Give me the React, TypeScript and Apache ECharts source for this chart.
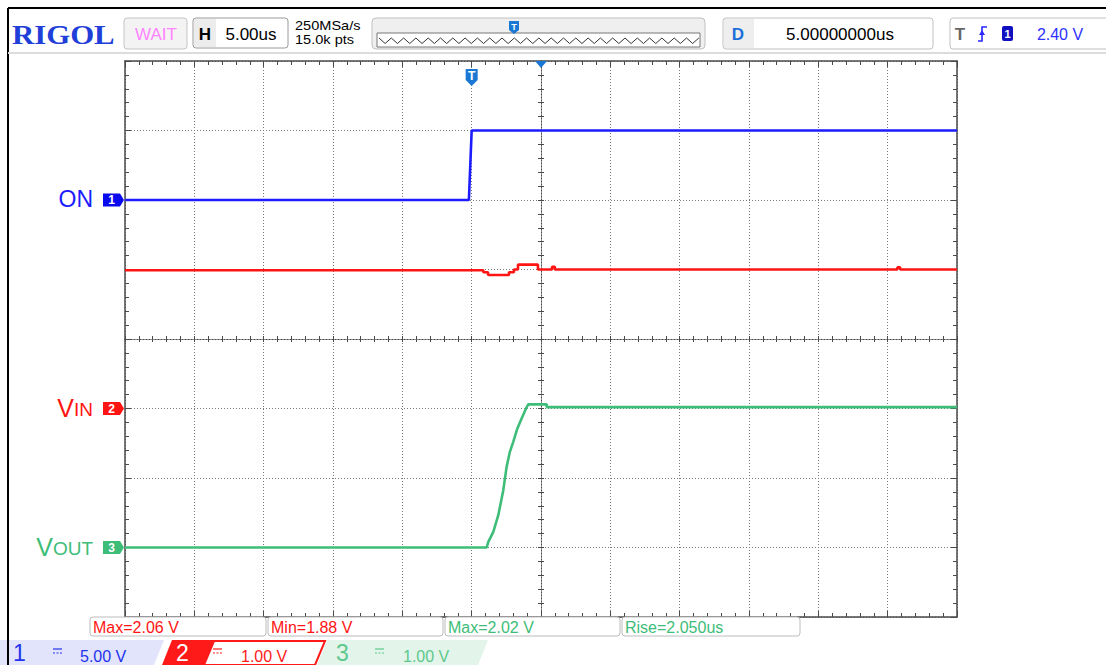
import React, { useEffect, useRef } from "react";
import * as echarts from "echarts";

// ---- axis definition (time in us relative to trigger, vertical in divisions) ----
const TIME_MIN = -25;
const TIME_MAX = 35;
const TIME_STEP = 5;
const DIV_MIN = -4;
const DIV_MAX = 4;
const CENTER_TIME = 5; // horizontal delay D = 5.00us

// ---- channels ----
const channelNames = ["ON", "VIN", "VOUT"];
const channelNumbers = ["1", "2", "3"];
const channelScales = [5, 1, 1]; // V/div
const channelOffsets = [2, -1, -3]; // ground marker position in divisions
const channelColors = ["#1c1cff", "#ff1414", "#3dbd78"];

// ---- CH1: ON ----
const onTime = [-25, -0.2, 0, 35];
const onVolts = [0, 0, 5, 5];

// ---- CH2: VIN ----
const vinTime = [-25, 0.84, 0.84, 1.18, 1.18, 2.69, 2.69, 3.05, 3.05, 3.34, 3.34, 4.78, 4.78, 5.8, 5.8, 6.0, 6.0, 30.7, 30.7, 30.9, 30.9, 35];
const vinVolts = [1.99, 1.99, 1.96, 1.96, 1.92, 1.92, 1.96, 1.96, 2.0, 2.0, 2.07, 2.07, 2.0, 2.0, 2.04, 2.04, 2.0, 2.0, 2.03, 2.03, 2.0, 2.0];

// ---- CH3: VOUT ----
const voutTime = [-25, 1.08, 1.2, 1.56, 1.92, 2.28, 2.52, 2.76, 3.0, 3.29, 3.61, 3.92, 4.08, 5.41, 5.41, 35];
const voutVolts = [0, 0, 0.08, 0.225, 0.465, 0.825, 1.16, 1.38, 1.52, 1.71, 1.86, 2.0, 2.06, 2.06, 2.02, 2.02];

// ---- header / measurement texts ----
const timebaseLabel = "5.00us";
const sampleRateLabel = "250MSa/s";
const memDepthLabel = "15.0k pts";
const delayLabel = "5.00000000us";
const triggerLevelLabel = "2.40 V";
const measureLabels = ["Max=2.06 V", "Min=1.88 V", "Max=2.02 V", "Rise=2.050us"];
const measureColors = ["#ff1414", "#ff1414", "#3dbd78", "#3dbd78"];
const channelScaleLabels = ["5.00 V", "1.00 V", "1.00 V"];

const UI_FONT = '"Liberation Sans", Arial, sans-serif';

const GRID_LEFT = 125;
const GRID_TOP = 61;
const GRID_W = 832;
const GRID_H = 556;

function toDivs(times: number[], volts: number[], ch: number) {
  return times.map((t, i) => [t, channelOffsets[ch] + volts[i] / channelScales[ch]]);
}

const AX = "#4a4a4a";
const SPLIT = { color: "#7a7a7a", type: [1, 2], width: 1 };

function xAxisDef(position: "top" | "bottom", offset: number, inside: boolean, split: boolean, lineType: any) {
  return {
    type: "value",
    min: TIME_MIN,
    max: TIME_MAX,
    interval: TIME_STEP,
    position,
    offset,
    axisLine: { show: true, onZero: false, lineStyle: { color: AX, width: offset === 0 ? 1.5 : 1, type: lineType } },
    axisTick: { show: true, inside, length: offset === 0 ? 6 : 3, lineStyle: { color: AX } },
    minorTick: { show: true, splitNumber: 5, length: offset === 0 ? 4 : 3, lineStyle: { color: AX } },
    axisLabel: { show: false },
    splitLine: { show: split, lineStyle: SPLIT },
    minorSplitLine: { show: false },
  };
}

function yAxisDef(position: "left" | "right", offset: number, inside: boolean, split: boolean, lineType: any) {
  return {
    type: "value",
    min: DIV_MIN,
    max: DIV_MAX,
    interval: 1,
    position,
    offset,
    axisLine: { show: true, onZero: false, lineStyle: { color: AX, width: offset === 0 ? 1.5 : 1, type: lineType } },
    axisTick: { show: true, inside, length: offset === 0 ? 6 : 3, lineStyle: { color: AX } },
    minorTick: { show: true, splitNumber: 5, length: offset === 0 ? 4 : 3, lineStyle: { color: AX } },
    axisLabel: { show: false },
    splitLine: { show: split, lineStyle: SPLIT },
    minorSplitLine: { show: false },
  };
}

function txt(x: number, y: number, text: string, o: any) {
  const align = o.align || "left";
  return {
    type: "text",
    x,
    y,
    scaleX: o.scaleX || 1,
    silent: true,
    z: 20,
    style: {
      text,
      fill: o.color,
      font: o.font,
      align,
      textAlign: align,
      verticalAlign: "middle",
      textVerticalAlign: "middle",
    },
  };
}

function rect(x: number, y: number, w: number, h: number, fill: string, stroke?: string, r = 0, lw = 1) {
  return {
    type: "rect",
    silent: true,
    z: 10,
    shape: { x, y, width: w, height: h, r },
    style: { fill, stroke: stroke || "none", lineWidth: lw },
  };
}

function poly(points: number[][], fill: string, stroke?: string, lw = 1) {
  return {
    type: "polygon",
    silent: true,
    z: 10,
    shape: { points },
    style: { fill, stroke: stroke || "none", lineWidth: lw },
  };
}

function line(x1: number, y1: number, x2: number, y2: number, stroke: string, lw = 1, dash?: number[]) {
  return {
    type: "line",
    silent: true,
    z: 15,
    shape: { x1, y1, x2, y2 },
    style: { stroke, lineWidth: lw, lineDash: dash },
  };
}

function coupling(x: number, y: number, color: string) {
  return [line(x, y, x + 9, y, color, 1.2), line(x, y + 4, x + 9, y + 4, color, 1.2, [2, 1.5])];
}

function buildGraphics(chart: any) {
  const px = (t: number, d: number) => chart.convertToPixel({ xAxisIndex: 0, yAxisIndex: 0 }, [t, d]);
  const g: any[] = [];

  // frame lines
  g.push(line(8, 8, 1106, 8, "#000", 2));
  g.push(line(8, 8, 8, 665, "#000", 2));
  g.push(line(8, 53, 1106, 53, "#dcdcdc", 2));

  // ---- header ----
  g.push(txt(12, 34, "RIGOL", { font: `bold 28px "Liberation Serif", serif`, color: "#1f3fd8", scaleX: 1.1 }));

  g.push(rect(124, 18, 63, 31, "#f3f3f3", "#c4c4c4", 3));
  g.push(txt(156, 34, "WAIT", { font: `17px ${UI_FONT}`, color: "#ff84ff", align: "center" }));

  g.push(rect(193, 18, 95, 30, "#ffffff", "#9a9a9a", 3));
  g.push(rect(194, 19, 22, 28, "#ececec"));
  g.push(txt(205, 34, "H", { font: `bold 17px ${UI_FONT}`, color: "#000", align: "center" }));
  g.push(txt(251, 34, timebaseLabel, { font: `17px ${UI_FONT}`, color: "#000", align: "center" }));

  g.push(txt(295, 26, sampleRateLabel, { font: `13px ${UI_FONT}`, color: "#000", scaleX: 1.12 }));
  g.push(txt(295, 40, memDepthLabel, { font: `13px ${UI_FONT}`, color: "#000", scaleX: 1.12 }));

  g.push(rect(372, 18, 333, 31, "#efefef", "#c0c0c0", 4));
  g.push(rect(377, 33, 323, 14, "#ffffff", "#777777"));
  const zig: number[][] = [];
  for (let i = 0; i <= 52; i++) {
    zig.push([379 + i * 6.15, i % 2 === 0 ? 38 : 43.5]);
  }
  g.push({ type: "polyline", silent: true, z: 15, shape: { points: zig }, style: { stroke: "#333", lineWidth: 1, fill: "none" } });
  g.push(poly([[509, 21], [519, 21], [519, 30], [514, 34], [509, 30]], "#1a78d4"));
  g.push(txt(514, 27, "T", { font: `bold 9px ${UI_FONT}`, color: "#fff", align: "center" }));

  g.push(rect(723, 18, 210, 31, "#ffffff", "#c0c0c0", 3));
  g.push(rect(724, 19, 30, 29, "#eeeeee"));
  g.push(txt(738, 34, "D", { font: `bold 17px ${UI_FONT}`, color: "#1a6fd8", align: "center" }));
  g.push(txt(840, 34, delayLabel, { font: `17px ${UI_FONT}`, color: "#000", align: "center" }));

  g.push(rect(950, 18, 165, 31, "#ffffff", "#c0c0c0", 3));
  g.push(txt(960, 34, "T", { font: `bold 17px ${UI_FONT}`, color: "#666", align: "center" }));
  g.push({
    type: "polyline",
    silent: true,
    z: 15,
    shape: { points: [[978, 41], [982, 41], [982, 27], [987, 27]] },
    style: { stroke: "#2a2aff", lineWidth: 1.6, fill: "none" },
  });
  g.push(poly([[979, 35], [985, 35], [982, 30]], "#2a2aff"));
  g.push(rect(1002, 26, 11, 15, "#1010c0", undefined, 2));
  g.push(txt(1007.5, 34, "1", { font: `bold 11px ${UI_FONT}`, color: "#fff", align: "center" }));
  g.push(txt(1060, 34, triggerLevelLabel, { font: `16px ${UI_FONT}`, color: "#3030ff", align: "center" }));

  // ---- trigger and center markers ----
  const [tx, ty] = px(0, DIV_MAX);
  g.push(poly([[tx - 6, ty + 8], [tx + 6, ty + 8], [tx + 6, ty + 19], [tx, ty + 25], [tx - 6, ty + 19]], "#1a78d4"));
  g.push(txt(tx, ty + 15, "T", { font: `bold 12px ${UI_FONT}`, color: "#fff", align: "center" }));
  const [cx, cy] = px(CENTER_TIME, DIV_MAX);
  g.push(poly([[cx - 6, cy], [cx + 6, cy], [cx, cy + 7]], "#1a78d4"));

  // ---- channel labels and markers ----
  const labelRight = 93;
  channelNames.forEach((name, i) => {
    const y = px(TIME_MIN, channelOffsets[i])[1];
    const color = channelColors[i];
    if (name === "ON") {
      g.push(txt(labelRight, y - 1, "ON", { font: `23px ${UI_FONT}`, color, align: "right" }));
    } else {
      const rest = name.slice(1);
      const restWidth = rest === "IN" ? 19 : 40;
      g.push(txt(labelRight, y + 1, rest, { font: `19px ${UI_FONT}`, color, align: "right" }));
      g.push(txt(labelRight - restWidth, y - 1, "V", { font: `25px ${UI_FONT}`, color, align: "right" }));
    }
    const mx = GRID_LEFT - 22;
    g.push(poly([[mx, y - 6.5], [mx + 17, y - 6.5], [mx + 21, y], [mx + 17, y + 6.5], [mx, y + 6.5]], i === 0 ? "#0a0aee" : color));
    g.push(txt(mx + 8.5, y, channelNumbers[i], { font: `bold 12px ${UI_FONT}`, color: "#fff", align: "center" }));
  });

  // ---- measurement boxes ----
  const mBoxes = [[90, 176], [268, 175], [445, 175], [622, 178]];
  mBoxes.forEach(([x, w], i) => {
    g.push(rect(x, 617, w, 19, "#ffffff", "#bcbcbc", 3));
    g.push(txt(x + 3, 627, measureLabels[i], { font: `16px ${UI_FONT}`, color: measureColors[i] }));
  });

  // ---- channel bar ----
  g.push(poly([[0, 640], [164, 640], [154, 665], [0, 665]], "#e2e4fb"));
  g.push(poly([[172, 640], [214, 640], [204, 665], [162, 665]], "#ff1a1a"));
  g.push(poly([[214, 641], [325, 641], [315, 665], [204, 665]], "#ffffff", "#ff1a1a", 2));
  g.push(poly([[327, 640], [488, 640], [478, 665], [317, 665]], "#e3f4ea"));

  g.push(txt(13, 653, "1", { font: `23px ${UI_FONT}`, color: "#2233ee" }));
  g.push(...coupling(53, 649, "#2233ee"));
  g.push(txt(80, 656, channelScaleLabels[0], { font: `16px ${UI_FONT}`, color: "#2233ee" }));

  g.push(txt(176, 653, "2", { font: `23px ${UI_FONT}`, color: "#ffffff" }));
  g.push(...coupling(213, 649, "#ff1a1a"));
  g.push(txt(241, 656, channelScaleLabels[1], { font: `16px ${UI_FONT}`, color: "#ff1a1a" }));

  g.push(txt(336, 653, "3", { font: `23px ${UI_FONT}`, color: "#5cc88c" }));
  g.push(...coupling(375, 649, "#5cc88c"));
  g.push(txt(403, 656, channelScaleLabels[2], { font: `16px ${UI_FONT}`, color: "#5cc88c" }));

  return g;
}

export default function App() {
  const ref = useRef<HTMLDivElement>(null);

  useEffect(() => {
    if (!ref.current) return;
    const chart = echarts.init(ref.current, undefined, { renderer: "svg" });
    const seriesData = [toDivs(onTime, onVolts, 0), toDivs(vinTime, vinVolts, 1), toDivs(voutTime, voutVolts, 2)];

    chart.setOption({
      animation: false,
      backgroundColor: "#ffffff",
      grid: { left: GRID_LEFT, top: GRID_TOP, width: GRID_W, height: GRID_H, containLabel: false },
      xAxis: [
        xAxisDef("bottom", 0, true, true, "solid"),
        xAxisDef("top", 0, true, false, "solid"),
        xAxisDef("bottom", -GRID_H / 2, true, false, [1, 2]),
        xAxisDef("bottom", -GRID_H / 2, false, false, [1, 2]),
      ],
      yAxis: [
        yAxisDef("left", 0, true, true, "solid"),
        yAxisDef("right", 0, true, false, "solid"),
        yAxisDef("left", -GRID_W / 2, true, false, [1, 2]),
        yAxisDef("left", -GRID_W / 2, false, false, [1, 2]),
      ],
      series: seriesData.map((data, i) => ({
        type: "line",
        name: channelNames[i],
        xAxisIndex: 0,
        yAxisIndex: 0,
        data,
        showSymbol: false,
        symbol: "none",
        clip: true,
        lineStyle: { color: channelColors[i], width: 2.6 },
        z: 5 + i,
      })),
    });

    chart.setOption({ graphic: { elements: buildGraphics(chart) } });

    return () => {
      chart.dispose();
    };
  }, []);

  return <div ref={ref} style={{ position: "fixed", left: 0, top: 0, width: 1106, height: 665, background: "#fff" }} />;
}
